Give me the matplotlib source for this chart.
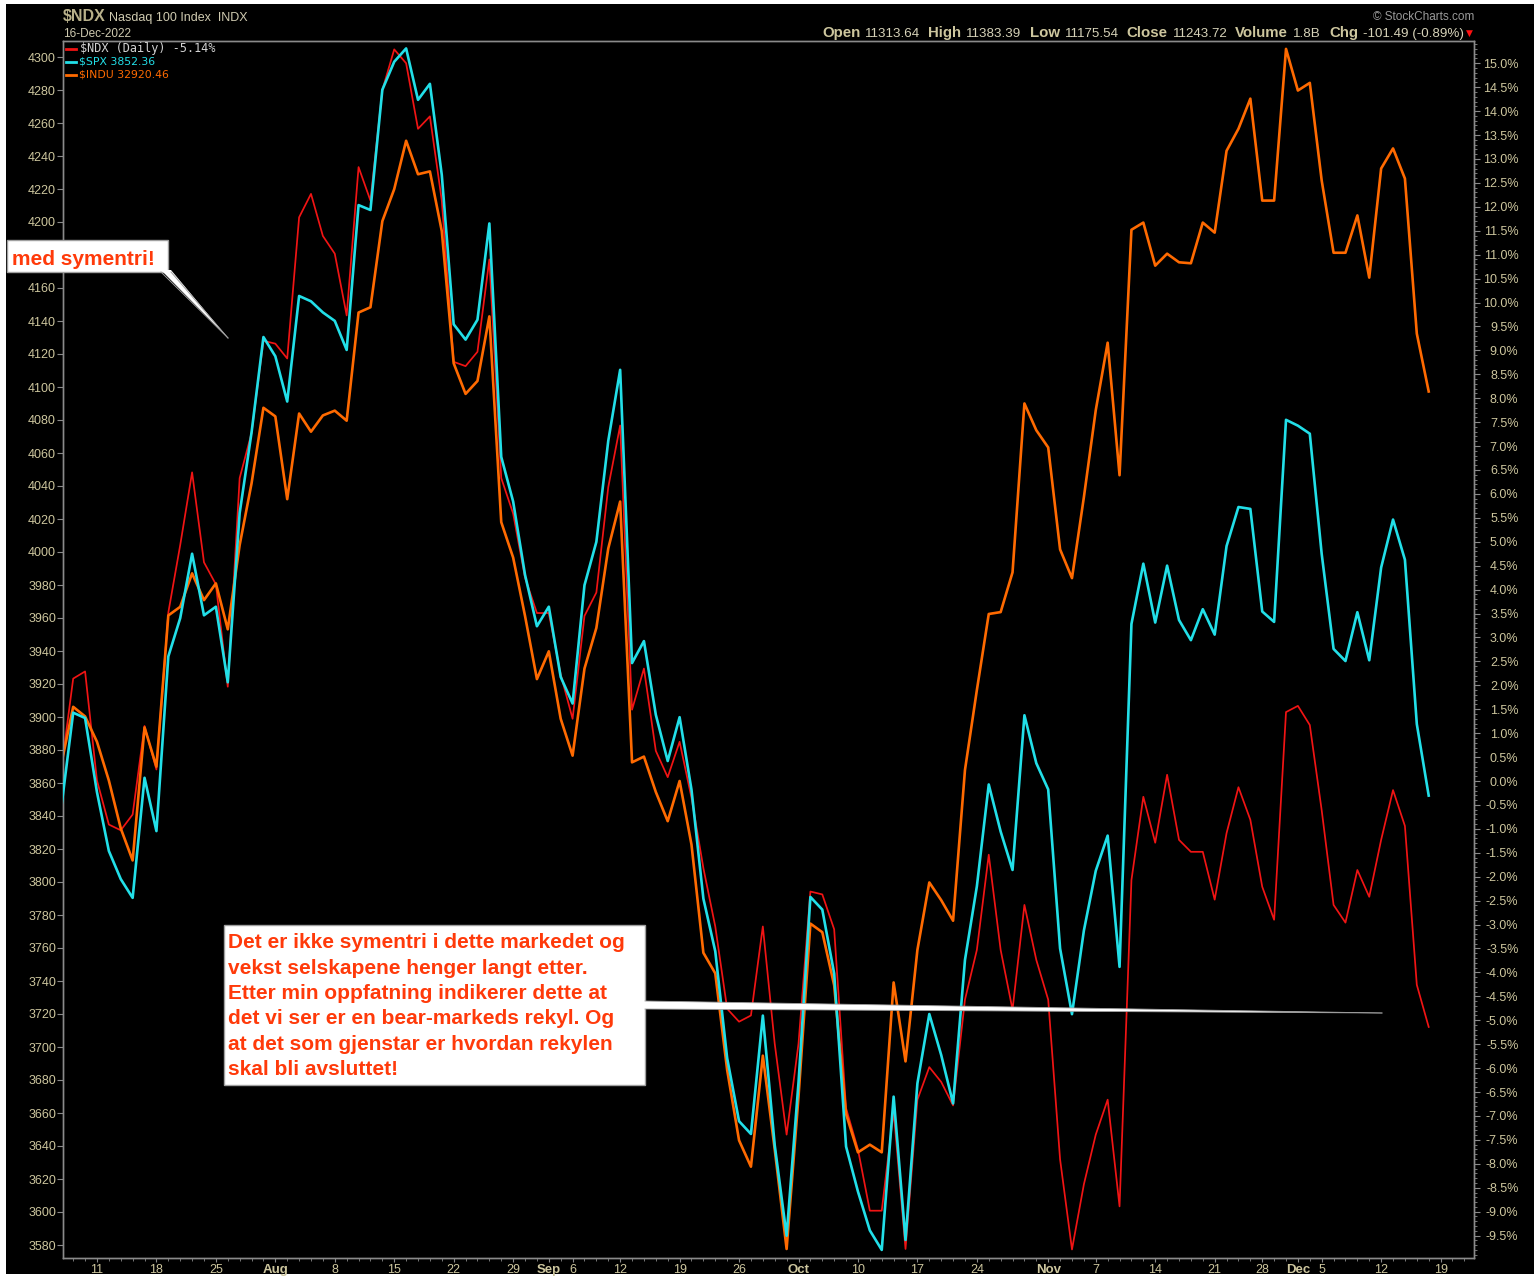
import matplotlib
matplotlib.use('Agg')
import matplotlib.pyplot as plt
import numpy as np
import pandas as pd
from matplotlib.patches import Rectangle, Polygon
from matplotlib.lines import Line2D
from matplotlib.ticker import FixedLocator

W, H = 1538, 1277

# ---------------- data ----------------
holidays = ['2022-09-05', '2022-11-24']
dates = [d for d in pd.bdate_range('2022-07-06', '2022-12-16')
         if d.strftime('%Y-%m-%d') not in holidays]

# $SPX close (left axis)
spx = [3845.08, 3902.62, 3899.38, 3854.43, 3818.80, 3801.78, 3790.38, 3863.16,
       3830.85, 3936.69, 3959.90, 3998.95, 3961.63, 3966.84, 3921.05, 4023.61,
       4072.43, 4130.29, 4118.63, 4091.19, 4155.17, 4151.94, 4145.19, 4140.06,
       4122.47, 4210.24, 4207.27, 4280.15, 4297.14, 4305.20, 4274.04, 4283.74,
       4228.48, 4137.99, 4128.73, 4140.77, 4199.12, 4057.66, 4030.61, 3986.16,
       3955.00, 3966.85, 3924.26, 3908.19, 3979.87, 4006.18, 4067.36, 4110.41,
       3932.69, 3946.01, 3901.35, 3873.33, 3899.89, 3855.93, 3789.93, 3757.99,
       3693.23, 3655.04, 3647.29, 3719.04, 3640.47, 3585.62, 3678.43, 3790.93,
       3783.28, 3744.52, 3639.66, 3612.39, 3588.84, 3577.03, 3669.91, 3583.07,
       3677.95, 3719.98, 3695.16, 3665.78, 3752.75, 3797.34, 3859.11, 3830.60,
       3807.30, 3901.06, 3871.98, 3856.10, 3759.69, 3719.89, 3770.55, 3806.80,
       3828.11, 3748.57, 3956.37, 3992.93, 3957.25, 3991.73, 3958.79, 3946.56,
       3965.34, 3949.94, 4003.58, 4027.26, 4026.12, 3963.94, 3957.63, 4080.11,
       4076.57, 4071.70, 3998.84, 3941.26, 3933.92, 3963.51, 3934.38, 3990.56,
       4019.65, 3995.32, 3895.75, 3852.36]

# $NDX performance, % (right axis)
ndx_pct = [0.24, 2.14, 2.29, 0.01, -0.91, -1.03, -0.70, 1.15,
           0.24, 3.52, 4.93, 6.45, 4.57, 4.11, 1.97, 6.33,
           7.27, 9.20, 9.14, 8.83, 11.78, 12.27, 11.39, 11.02,
           9.73, 12.83, 12.13, 14.44, 15.29, 15.00, 13.63, 13.89,
           12.13, 8.76, 8.67, 8.97, 10.90, 6.33, 5.59, 4.25,
           3.51, 3.51, 2.23, 1.30, 3.45, 3.94, 6.14, 7.43,
           1.49, 2.35, 0.63, 0.08, 0.82, -0.35, -1.82, -3.04,
           -4.76, -5.03, -4.90, -3.04, -5.49, -7.39, -5.49, -2.31,
           -2.37, -3.10, -6.84, -7.70, -8.98, -8.98, -6.90, -9.78,
           -6.66, -5.98, -6.29, -6.78, -4.57, -3.53, -1.54, -3.53,
           -4.78, -2.59, -3.74, -4.57, -7.91, -9.79, -8.43, -7.39,
           -6.66, -8.89, -2.07, -0.33, -1.29, 0.13, -1.23, -1.48,
           -1.48, -2.48, -1.09, -0.13, -0.81, -2.21, -2.90, 1.44,
           1.57, 1.17, -0.61, -2.59, -2.96, -1.86, -2.42, -1.23,
           -0.19, -0.94, -4.26, -5.14]

# $INDU overlay, read on the % scale (right axis)
indu_pct = [0.35, 1.55, 1.35, 0.82, 0.01, -0.99, -1.66, 1.12,
            0.30, 3.46, 3.64, 4.34, 3.78, 4.13, 3.17, 4.93,
            6.22, 7.80, 7.62, 5.89, 7.68, 7.30, 7.64, 7.74,
            7.53, 9.79, 9.90, 11.70, 12.37, 13.38, 12.68, 12.74,
            11.49, 8.73, 8.09, 8.36, 9.71, 5.41, 4.67, 3.45,
            2.13, 2.71, 1.30, 0.53, 2.35, 3.20, 4.86, 5.84,
            0.39, 0.51, -0.23, -0.84, 0.00, -1.33, -3.59, -4.02,
            -6.04, -7.51, -8.06, -5.74, -7.70, -9.78, -6.60, -2.98,
            -3.16, -4.27, -6.96, -7.76, -7.60, -7.76, -4.21, -5.86,
            -3.53, -2.12, -2.49, -2.92, 0.23, 1.90, 3.49, 3.53,
            4.36, 7.89, 7.33, 6.97, 4.84, 4.24, 5.93, 7.75,
            9.16, 6.39, 11.52, 11.67, 10.77, 11.02, 10.84, 10.82,
            11.67, 11.46, 13.17, 13.63, 14.26, 12.13, 12.13, 15.30,
            14.43, 14.59, 12.55, 11.04, 11.04, 11.82, 10.52, 12.80,
            13.22, 12.59, 9.35, 8.14]

tick_dates = ['2022-07-11', '2022-07-18', '2022-07-25', '2022-08-01', '2022-08-08',
              '2022-08-15', '2022-08-22', '2022-08-29', '2022-09-01', '2022-09-06',
              '2022-09-12', '2022-09-19', '2022-09-26', '2022-10-03', '2022-10-10',
              '2022-10-17', '2022-10-24', '2022-11-01', '2022-11-07', '2022-11-14',
              '2022-11-21', '2022-11-28', '2022-12-01', '2022-12-05', '2022-12-12',
              '2022-12-19']
tick_texts = ['11', '18', '25', 'Aug', '8', '15', '22', '29', 'Sep', '6', '12', '19',
              '26', 'Oct', '10', '17', '24', 'Nov', '7', '14', '21', '28', 'Dec', '5',
              '12', '19']
month_names = {'Aug', 'Sep', 'Oct', 'Nov', 'Dec'}

left_ticks = list(range(3580, 4301, 20))
hidden_left = {4180}          # covered by the "med symentri!" note in the original
right_ticks = [v / 2 for v in range(-19, 31)]

legend_items = [('$NDX (Daily) -5.14%', '#f01414', '#d2d2d2'),
                ('$SPX 3852.36', '#22dfe8', '#22dfe8'),
                ('$INDU 32920.46', '#ff6a00', '#ff6a00')]

header_pairs = [('Open', '11313.64'), ('High', '11383.39'), ('Low', '11175.54'),
                ('Close', '11243.72'), ('Volume', '1.8B'), ('Chg', '-101.49 (-0.89%)')]

note_small = 'med symentri!'
note_big = ['Det er ikke symentri i dette markedet og',
            'vekst selskapene henger langt etter.',
            'Etter min oppfatning indikerer dette at',
            'det vi ser er en bear-markeds rekyl. Og',
            'at det som gjenstar er hvordan rekylen',
            'skal bli avsluttet!']

# ---------------- layout helpers ----------------
all_days = [d for d in pd.bdate_range('2022-07-06', '2022-12-30')
            if d.strftime('%Y-%m-%d') not in holidays]
day_index = {d.strftime('%Y-%m-%d'): i for i, d in enumerate(all_days)}
idx = np.arange(len(dates))

def fx(x):
    return x / W

def fy(y):
    return 1 - y / H

TAN = '#cdc69e'
GRID = '#8a8a8a'
FONT = 'Liberation Sans'

fig = plt.figure(figsize=(W / 100, H / 100), dpi=100, facecolor='white')
fig.patches.append(Rectangle((fx(6), fy(1274)), (1534 - 6) / W, (1274 - 4) / H,
                             transform=fig.transFigure, facecolor='black',
                             edgecolor='none', zorder=-10))

ax = fig.add_axes([fx(63), fy(1258), (1474 - 63) / W, (1258 - 41) / H])
ax2 = ax.twinx()
ax.set_zorder(2)
ax.patch.set_visible(False)
ax2.set_facecolor('black')

# lines
ax2.plot(idx, ndx_pct, color='#f01414', lw=1.25, zorder=3)
ax2.plot(idx, indu_pct, color='#ff6a00', lw=1.9, zorder=4)
ax.plot(idx, spx, color='#22dfe8', lw=1.9, zorder=3)

# scales
ax.set_xlim(0.143, 118.81)
ax.set_ylim(4300 - (1258 - 57) / 1.65, 4300 + (57 - 41) / 1.65)
ax2.set_ylim((781 - 1258) / 47.85, (781 - 41) / 47.85)

for a in (ax, ax2):
    for s in a.spines.values():
        s.set_color(GRID)
        s.set_linewidth(1.0)

# left axis
ax.set_yticks(left_ticks)
ax.set_yticklabels(['' if v in hidden_left else str(v) for v in left_ticks],
                   fontsize=9, color=TAN, family=FONT)
ax.tick_params(axis='y', which='major', length=4, width=0.8, color=GRID, pad=1,
               direction='out')

# right axis
def pct_label(v):
    if abs(v) < 1e-9:
        v = 0.0
    return f'{v:.1f}%'

ax2.set_yticks(right_ticks)
ax2.set_yticklabels([pct_label(v) for v in right_ticks], fontsize=9, color=TAN,
                    family=FONT, ha='right')
ax2.yaxis.set_minor_locator(FixedLocator([v / 10 for v in range(-99, 155)]))
ax2.tick_params(axis='y', which='major', length=4, width=0.8, color=GRID, pad=28,
                direction='out')
ax2.tick_params(axis='y', which='minor', length=2, width=0.6, color=GRID,
                direction='out')

# x axis
tick_pos = [day_index[d] for d in tick_dates]
ax.set_xticks(tick_pos)
ax.set_xticklabels(tick_texts, fontsize=9, color=TAN, family=FONT)
for lbl in ax.get_xticklabels():
    if lbl.get_text() in month_names:
        lbl.set_fontweight('bold')
        lbl.set_fontsize(9.5)
ax.xaxis.set_minor_locator(FixedLocator(list(range(0, 119))))
ax.tick_params(axis='x', which='major', length=3, width=0.8, color=GRID, pad=1)
ax.tick_params(axis='x', which='minor', length=2, width=0.6, color=GRID)

# legend (top-left inside)
for k, (txt, lc, tc) in enumerate(legend_items):
    yy = 48.5 + 13 * k
    fig.add_artist(Line2D([fx(66), fx(76)], [fy(yy), fy(yy)], color=lc, lw=2,
                          transform=fig.transFigure, zorder=12))
    if k == 0:
        fig.text(fx(80), fy(yy), txt, color=tc, fontsize=8.6, family='DejaVu Sans Mono',
                 va='center', ha='left', zorder=12)
    else:
        fig.text(fx(79), fy(yy), txt, color=tc, fontsize=7.8, family='DejaVu Sans',
                 va='center', ha='left', zorder=12)

# header
fig.text(fx(63), fy(21), '$NDX', color='#b8b08a', fontsize=11.5, fontweight='bold',
         family=FONT, va='baseline', ha='left')
fig.text(fx(109), fy(21), 'Nasdaq 100 Index  INDX', color='#cfcab0', fontsize=9,
         family=FONT, va='baseline', ha='left')
fig.text(fx(63), fy(37), '16-Dec-2022', color='#cfcab0', fontsize=8.5,
         family=FONT, va='baseline', ha='left')
fig.text(fx(1474), fy(20), '\u00a9 StockCharts.com', color='#9a9a9a', fontsize=8.5,
         family=FONT, va='baseline', ha='right')

fig.canvas.draw()
renderer = fig.canvas.get_renderer()
fig.text(fx(1466), fy(33), '\u25bc', color='#ff1010', fontsize=6.5, family='DejaVu Sans',
         va='center', ha='left')
xcur = 1464
for lab, val in reversed(header_pairs):
    t = fig.text(fx(xcur), fy(37), val, color='#d6d2b8', fontsize=9.6, family=FONT,
                 va='baseline', ha='right')
    wv = t.get_window_extent(renderer).width
    xcur -= wv + 5
    t2 = fig.text(fx(xcur), fy(37), lab, color='#cdc69e', fontsize=10.8, family=FONT,
                  fontweight='bold', va='baseline', ha='right')
    wl = t2.get_window_extent(renderer).width
    xcur -= wl + 8

# annotation 1: "med symentri!"
RED_TXT = '#ff3a0a'
EDGE = '#a0a0a0'
fig.patches.append(Rectangle((fx(7), fy(272)), (168 - 7) / W, (272 - 240) / H,
                             transform=fig.transFigure, facecolor='white',
                             edgecolor=EDGE, lw=1.0, zorder=10))
fig.patches.append(Polygon([(fx(161), fy(270)), (fx(228), fy(338)), (fx(171), fy(270))],
                           closed=True, transform=fig.transFigure, facecolor='white',
                           edgecolor='none', zorder=10.5))
for xa in (161, 171):
    fig.add_artist(Line2D([fx(xa), fx(228)], [fy(272), fy(338)], color=EDGE, lw=0.7,
                          transform=fig.transFigure, zorder=10.6))
fig.text(fx(11.5), fy(265), note_small, color=RED_TXT, fontsize=15, fontweight='bold',
         family=FONT, va='baseline', ha='left', zorder=11)

# annotation 2: big box with pointer
fig.patches.append(Rectangle((fx(224), fy(1085)), (645 - 224) / W, (1085 - 925) / H,
                             transform=fig.transFigure, facecolor='white',
                             edgecolor=EDGE, lw=1.0, zorder=10))
fig.patches.append(Polygon([(fx(644), fy(1001)), (fx(1382), fy(1013)), (fx(644), fy(1009))],
                           closed=True, transform=fig.transFigure, facecolor='white',
                           edgecolor='none', zorder=10.5))
for ya in (1001, 1009):
    fig.add_artist(Line2D([fx(645), fx(1382)], [fy(ya), fy(1013)], color=EDGE, lw=0.6,
                          transform=fig.transFigure, zorder=10.6))
for k, line in enumerate(note_big):
    fig.text(fx(228.5), fy(948.5 + 25.3 * k), line, color=RED_TXT, fontsize=15,
             fontweight='bold', family=FONT, va='baseline', ha='left', zorder=11)

fig.savefig('out.png', dpi=100, facecolor=fig.get_facecolor())
